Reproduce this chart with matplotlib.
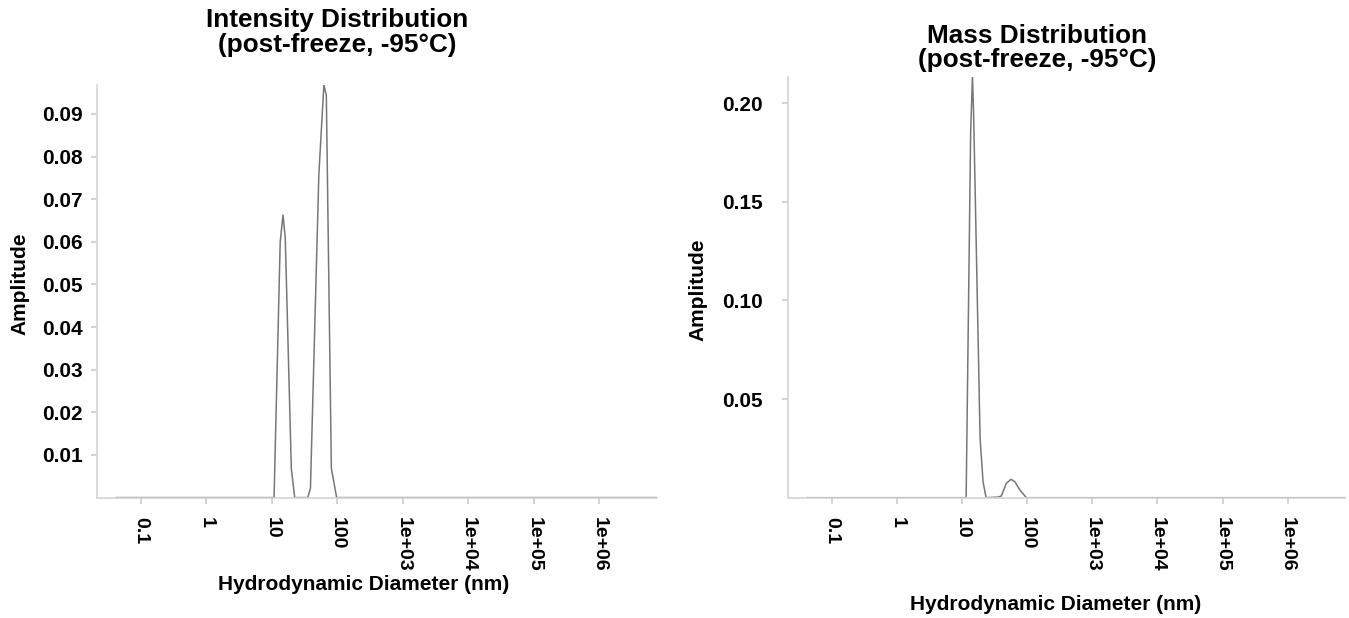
import numpy as np
import matplotlib.pyplot as plt

plt.rcParams["font.family"] = ["Liberation Sans", "DejaVu Sans"]
plt.rcParams["font.weight"] = "bold"

# Intensity distribution: hydrodynamic diameter (nm) / amplitude
int_size = [0.042, 10.8, 13.4, 14.8, 16.0, 19.8, 22.3, 35.3, 38.8, 52.1, 62.2, 67.8, 80.9, 97.5, 7.6e6]
int_amp = [0, 0, 0.060, 0.0663, 0.061, 0.0069, 0, 0, 0.0022, 0.0757, 0.0968, 0.0944, 0.0069, 0, 0]

# Mass distribution
mass_size = [0.042, 11.6, 13.6, 14.5, 15.1, 19.0, 21.1, 23.5, 36.0, 40.3, 48.0, 56.5, 65.0, 77.4, 97.8, 7.6e6]
mass_amp = [0, 0, 0.185, 0.2134, 0.195, 0.03, 0.008, 0, 0.0003, 0.0009, 0.0073, 0.0093, 0.0081, 0.0039, 0, 0]

x_ticks = [0.1, 1, 10, 100, 1e3, 1e4, 1e5, 1e6]
x_labels = ["0.1", "1", "10", "100", "1e+03", "1e+04", "1e+05", "1e+06"]
int_yticks = [0.01, 0.02, 0.03, 0.04, 0.05, 0.06, 0.07, 0.08, 0.09]
mass_yticks = [0.05, 0.10, 0.15, 0.20]

W, H = 1349, 618


def px_box(x0, x1, ytop, ybot):
    return [x0 / W, (H - ybot) / H, (x1 - x0) / W, (ybot - ytop) / H]


def style(ax, yticks, ylab_fmt, ypad):
    for s in ["top", "right"]:
        ax.spines[s].set_visible(False)
    for s in ["left", "bottom"]:
        ax.spines[s].set_color("#d4d4d4")
        ax.spines[s].set_linewidth(1.2)
    ax.set_xscale("log")
    ax.set_xlim(10 ** -1.67, 10 ** 6.88)
    ax.set_xticks(x_ticks)
    ax.set_xticklabels(x_labels, rotation=-90, va="top", ha="center")
    ax.minorticks_off()
    ax.set_yticks(yticks)
    ax.set_yticklabels([ylab_fmt.format(v) for v in yticks])
    ax.tick_params(axis="both", color="#cccccc", length=4, width=1.2,
                   labelcolor="black")
    ax.tick_params(axis="x", pad=10, labelsize=14)
    ax.tick_params(axis="y", pad=ypad, labelsize=15)
    ax.patch.set_alpha(0.0)


fig = plt.figure(figsize=(W / 100, H / 100), dpi=100)

ax1 = fig.add_axes(px_box(97, 657, 85, 497.6))
ax1.plot(int_size, int_amp, color="#777777", linewidth=1.1)
ax1.set_ylim(0, max(int_amp))
style(ax1, int_yticks, "{:.2f}", 6.5)

ax2 = fig.add_axes(px_box(788, 1345, 76.7, 497.7))
ax2.plot(mass_size, mass_amp, color="#777777", linewidth=1.1)
ax2.set_ylim(0, max(mass_amp))
style(ax2, mass_yticks, "{:.2f}", 14)

# titles
fig.text(337.5 / W, 1 - 8 / H, "Intensity Distribution\n(post-freeze, -95°C)",
         ha="center", va="top", fontsize=18.8, fontweight="bold", linespacing=1.05)
fig.text(1037 / W, 1 - 24 / H, "Mass Distribution\n(post-freeze, -95°C)",
         ha="center", va="top", fontsize=18.8, fontweight="bold", linespacing=0.98)

# axis labels
fig.text(20 / W, 1 - 283.5 / H, "Amplitude", rotation=90, ha="center", va="center",
         fontsize=15, fontweight="bold")
fig.text(698 / W, 1 - 290 / H, "Amplitude", rotation=90, ha="center", va="center",
         fontsize=15, fontweight="bold")
fig.text(363.5 / W, 1 - 584 / H, "Hydrodynamic Diameter (nm)", ha="center", va="center",
         fontsize=15, fontweight="bold")
fig.text(1056 / W, 1 - 605 / H, "Hydrodynamic Diameter (nm)", ha="center", va="center",
         fontsize=15, fontweight="bold")

fig.savefig("out.png", dpi=100, facecolor="white")
